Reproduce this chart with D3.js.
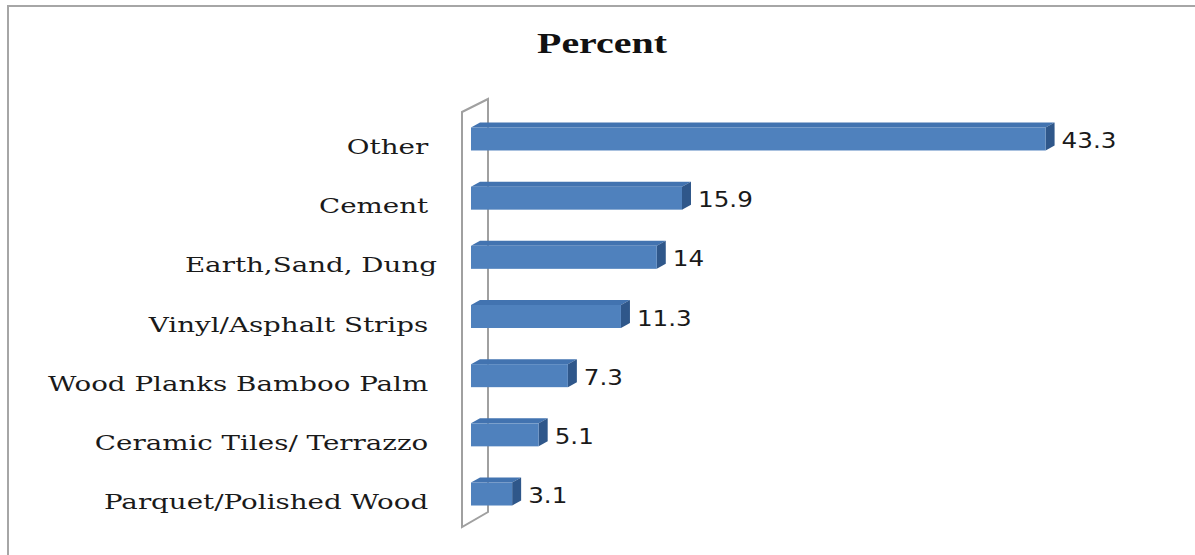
<!DOCTYPE html>
<html>
<head>
<meta charset="utf-8">
<script src="https://cdn.jsdelivr.net/npm/d3@7"></script>
<style>
  html, body { margin: 0; padding: 0; background: #fff; }
  svg { display: block; }
  text { white-space: pre; }
</style>
</head>
<body>
<svg id="chart" width="1195" height="555"></svg>
<script>
const title = "Percent";
const categories = [
  "Other ",
  "Cement ",
  "Earth,Sand, Dung",
  "Vinyl/Asphalt Strips ",
  "Wood Planks Bamboo Palm ",
  "Ceramic Tiles/ Terrazzo ",
  "Parquet/Polished Wood "
];
const values = [43.3, 15.9, 14, 11.3, 7.3, 5.1, 3.1];
const valueLabels = ["43.3", "15.9", "14", "11.3", "7.3", "5.1", "3.1"];

const svg = d3.select("#chart");
const W = 1195, H = 555;

// outer border (right/bottom run off the picture)
svg.append("path")
  .attr("d", `M8,${H + 5} L8,6 L${W + 5},6`)
  .attr("fill", "none").attr("stroke", "#a6a6a6").attr("stroke-width", 2);

const x = d3.scaleLinear().domain([0, 50]).range([471, 471 + 50 * 13.27]);
const y = d3.scalePoint().domain(categories).range([109.4, 523.6]).padding(0.5);

const barH = 23, dx = 9, dy = 5;
const x0 = x(0);

// 3D wall
const wallTop = y(categories[0]) - 27, wallBot = y(categories[categories.length - 1]) + 33;
const wall = svg.append("g").attr("fill", "none").attr("stroke", "#a0a0a0").attr("stroke-width", 2);
wall.append("path").attr("d",
  `M${x0 - 9},${wallBot} L${x0 - 9},${wallTop} L${x0 + 17},${wallTop - 13} L${x0 + 17},${wallBot - 15} Z`);

// bars
const g = svg.append("g");
categories.forEach((c, i) => {
  const v = values[i];
  const cy = y(c);
  const top = cy - barH / 2, bot = cy + barH / 2;
  const xv = x(v);
  g.append("polygon")
    .attr("points", `${x0},${top} ${x0 + dx},${top - dy} ${xv + dx},${top - dy} ${xv},${top}`)
    .attr("fill", "#4273b0");
  g.append("polygon")
    .attr("points", `${xv},${top} ${xv + dx},${top - dy} ${xv + dx},${bot - dy} ${xv},${bot}`)
    .attr("fill", "#2f578a");
  g.append("rect")
    .attr("x", x0).attr("y", top)
    .attr("width", xv - x0).attr("height", barH)
    .attr("fill", "#4f81bd");
  // value label
  g.append("text")
    .attr("transform", `translate(${xv + 16},${cy + 9}) scale(1.12,1)`)
    .attr("font-family", "DejaVu Sans, Verdana, sans-serif")
    .attr("font-size", 22)
    .attr("fill", "#1a1a1a")
    .text(valueLabels[i]);
  // category label
  g.append("text")
    .attr("transform", `translate(437,${cy + 15}) scale(1.32,1)`)
    .attr("text-anchor", "end")
    .attr("font-family", "DejaVu Serif, serif")
    .attr("font-size", 21)
    .attr("fill", "#1a1a1a")
    .text(c);
});

// title
svg.append("text")
  .attr("transform", "translate(602,53) scale(1.33,1)")
  .attr("text-anchor", "middle")
  .attr("font-family", "Liberation Serif, Times New Roman, serif")
  .attr("font-weight", "bold")
  .attr("font-size", 30)
  .attr("fill", "#111")
  .text(title);
</script>
</body>
</html>
